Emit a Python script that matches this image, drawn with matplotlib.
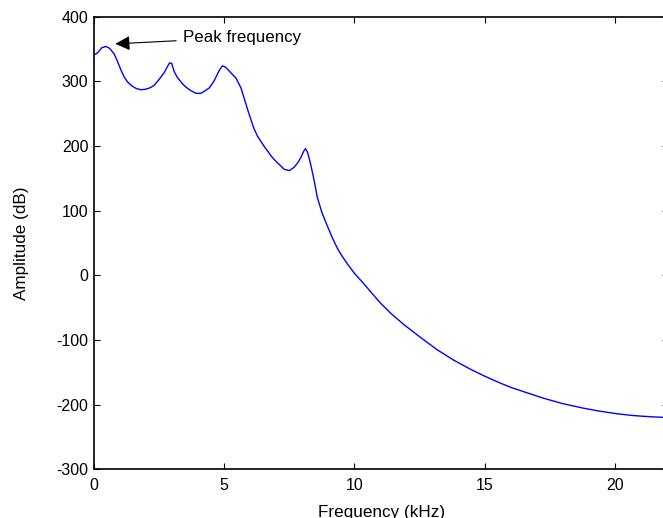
import matplotlib
matplotlib.use("Agg")
import matplotlib.pyplot as plt

plt.rcParams['font.family'] = ['Liberation Sans', 'DejaVu Sans']
plt.rcParams['axes.unicode_minus'] = False

freq_khz = [0.0, 0.1, 0.2, 0.3, 0.46, 0.6, 0.78, 0.9, 1.04, 1.17, 1.29, 1.45, 1.62, 1.8, 2.0,
            2.15, 2.31, 2.5, 2.7, 2.82, 2.9, 2.98, 3.08, 3.2, 3.34, 3.5, 3.7, 3.92, 4.1,
            4.25, 4.43, 4.6, 4.81, 4.93, 5.05, 5.26, 5.45, 5.64, 5.78, 5.9, 6.03, 6.15,
            6.28, 6.41, 6.54, 6.67, 6.83, 6.99, 7.15, 7.3, 7.5, 7.68, 7.82, 7.95, 8.05,
            8.12, 8.2, 8.31, 8.45, 8.57, 8.75, 8.95, 9.15, 9.34, 9.52, 9.72, 10.0,
            10.36, 10.61, 11.0, 11.4, 11.89, 12.5, 13.17, 13.8, 14.44, 15.0, 15.5, 15.98,
            16.5, 17.25, 18.0, 18.79, 19.4, 20.06, 20.6, 21.08, 21.5, 22.05]
amplitude_db = [341, 343, 347, 352, 354, 351, 342, 331, 317, 306, 299, 293, 289, 287, 288,
                290, 294, 303, 314, 323, 328.5, 328, 315, 306, 299, 292, 286, 281.5, 281.5,
                285, 290, 300, 317, 324, 322, 313, 305, 290, 272, 256, 240, 226,
                215, 207, 199, 192, 183, 176, 170, 164, 162, 167, 174, 183, 192,
                196, 190, 173, 147, 121, 97, 77, 58, 42, 30, 18, 3,
                -13, -25, -43, -59, -76, -95, -115, -131, -145, -156, -165, -173,
                -180, -190, -198.5, -205.5, -210, -214, -216.5, -218, -219, -220]

xticks = [0, 5, 10, 15, 20]
yticks = [-300, -200, -100, 0, 100, 200, 300, 400]

W, H = 663, 518
fig = plt.figure(figsize=(W / 100, H / 100), dpi=100)
left, right = 94, 668.4
top, bottom = 16.7, 469.3
ax = fig.add_axes([left / W, 1 - bottom / H, (right - left) / W, (bottom - top) / H])

ax.plot(freq_khz, amplitude_db, color='#0000ff', lw=1.0)
ax.set_xlim(0, 22.05)
ax.set_ylim(-300, 400)
ax.set_xticks(xticks)
ax.set_yticks(yticks)
ax.tick_params(direction='in', length=4, width=0.8, top=True, right=True,
               labelsize=11.5, colors='black')
ax.tick_params(axis='x', pad=6)
ax.tick_params(axis='y', pad=4)
for s in ax.spines.values():
    s.set_linewidth(1.2)
    s.set_color('black')

ax.set_xlabel('Frequency (kHz)', fontsize=12.3, labelpad=9)
ax.set_ylabel('Amplitude (dB)', fontsize=12.3, labelpad=20)

ax.annotate('Peak frequency', xy=(0.82, 358), xytext=(3.42, 368),
            fontsize=12.2, va='center', ha='left',
            arrowprops=dict(arrowstyle='-|>', color='black', lw=0.8,
                            mutation_scale=22, shrinkA=3, shrinkB=0))

fig.savefig('out.png', dpi=100)
